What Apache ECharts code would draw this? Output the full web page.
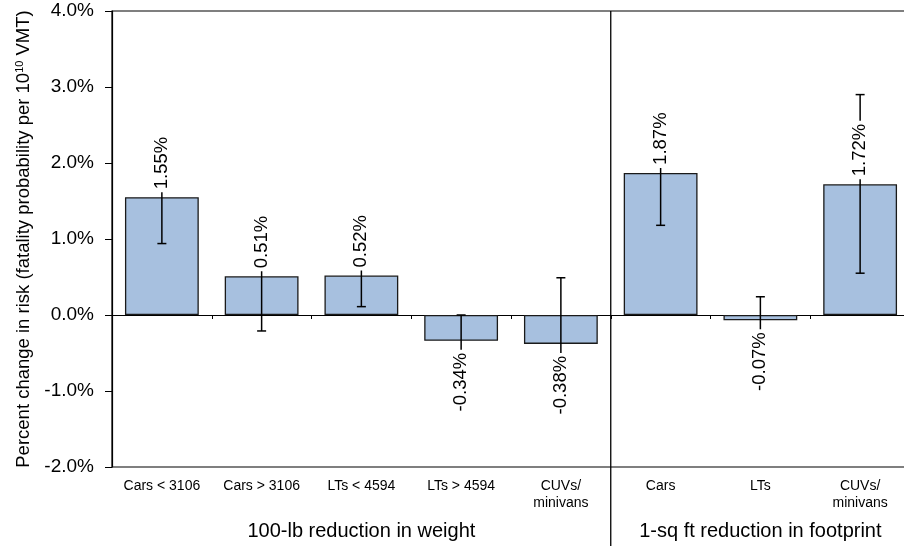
<!DOCTYPE html>
<html><head><meta charset="utf-8">
<script src="https://cdn.jsdelivr.net/npm/echarts@6/dist/echarts.min.js"></script>
<style>html,body{margin:0;padding:0;background:#fff}#c{width:904px;height:546px}</style>
</head><body><div id="c"></div>
<script>
const categories = ['Cars < 3106','Cars > 3106','LTs < 4594','LTs > 4594','CUVs/\nminivans','Cars','LTs','CUVs/\nminivans'];
const values = [1.55, 0.51, 0.52, -0.34, -0.38, 1.87, -0.07, 1.72];
const errLow = [0.94, -0.21, 0.11, -0.66, -1.18, 1.18, -0.38, 0.55];
const errHigh = [2.16, 1.23, 0.93, 0.00, 0.49, 2.56, 0.24, 2.90];
const groupNames = ['100-lb reduction in weight', '1-sq ft reduction in footprint'];
const groupStart = [0, 5];
const groupEnd = [4, 7];
const yMin = -2, yMax = 4, yInterval = 1;

const FONT = 'Arial, "Liberation Sans", sans-serif';
const chart = echarts.init(document.getElementById('c'), null, {renderer: 'canvas'});

const errData = values.map((v, i) => [i, errLow[i], errHigh[i]]);
const groupData = groupNames.map((n, i) => [groupStart[i], groupEnd[i], i]);

const option = {
  animation: false,
  backgroundColor: '#fff',
  grid: {left: 112, top: 11, width: 798, bottom: 79, show: true, borderColor: '#000', borderWidth: 1.2,
         containLabel: false, outerBoundsMode: 'none'},
  xAxis: [
    {type: 'category', data: categories, axisLine: {onZero: true, lineStyle: {color: '#000', width: 1.2}},
     axisTick: {show: true, alignWithLabel: false, length: 4, lineStyle: {color: '#000'}},
     axisLabel: {show: false}, splitLine: {show: false}},
    {type: 'category', data: categories, position: 'bottom', axisLine: {onZero: false, show: false},
     axisTick: {show: false},
     axisLabel: {show: true, interval: 0, margin: 11, color: '#000', fontSize: 14, lineHeight: 17, fontFamily: FONT}}
  ],
  yAxis: {
    type: 'value', min: yMin, max: yMax, interval: yInterval,
    axisLine: {show: true, lineStyle: {color: '#000', width: 1.2}},
    axisTick: {show: true, length: 7, lineStyle: {color: '#000'}},
    splitLine: {show: false},
    axisLabel: {formatter: v => v.toFixed(1) + '%', color: '#000', fontSize: 19, fontFamily: FONT, margin: 18},
    name: 'Percent change in risk (fatality probability per 10{sup|10} VMT)',
    nameLocation: 'middle', nameRotate: 90, nameGap: 74,
    nameTextStyle: {color: '#000', fontSize: 18.5, fontFamily: FONT,
      rich: {sup: {fontSize: 11, fontFamily: FONT, color: '#000', verticalAlign: 'top', padding: [0, 0, 8, 0]}}}
  },
  series: [
    {type: 'bar', data: values, barWidth: '74%', z: 2,
     itemStyle: {color: '#a7c0df', borderColor: '#1a1a1a', borderWidth: 1.3}},
    {type: 'custom', z: 3, data: errData, clip: false,
     encode: {x: 0, y: [1, 2]},
     renderItem: function (params, api) {
       const x = api.value(0);
       const lo = api.coord([x, api.value(1)]);
       const hi = api.coord([x, api.value(2)]);
       const w = 4.5;
       const st = {stroke: '#000', lineWidth: 1.5};
       return {type: 'group', children: [
         {type: 'line', shape: {x1: lo[0], y1: lo[1], x2: hi[0], y2: hi[1]}, style: st},
         {type: 'line', shape: {x1: lo[0] - w, y1: lo[1], x2: lo[0] + w, y2: lo[1]}, style: st},
         {type: 'line', shape: {x1: hi[0] - w, y1: hi[1], x2: hi[0] + w, y2: hi[1]}, style: st}
       ]};
     }},
    {type: 'bar', barGap: '-100%', barWidth: '74%', z: 5,
     itemStyle: {color: 'rgba(0,0,0,0)'},
     data: values.map(v => ({value: v, label: v >= 0
       ? {position: 'top', align: 'left', verticalAlign: 'middle', distance: 5}
       : {position: 'bottom', align: 'right', verticalAlign: 'middle', distance: 9}})),
     label: {show: true, rotate: 90, formatter: p => p.value.toFixed(2) + '%', color: '#000', fontSize: 18.5,
       fontFamily: FONT, backgroundColor: '#fff', padding: [0, 3]}},
    {type: 'custom', z: 6, data: groupData, clip: false, silent: true,
     encode: {x: [0, 1]},
     renderItem: function (params, api) {
       const s = api.value(0), e = api.value(1), gi = api.value(2);
       const bw = api.size([1, 0])[0];
       const left = api.coord([s, 0])[0] - bw / 2;
       const right = api.coord([e, 0])[0] + bw / 2;
       const top = api.coord([s, yMax])[1];
       const bottomAxis = api.coord([s, yMin])[1];
       const H = api.getHeight();
       const children = [{type: 'text', style: {text: groupNames[gi], x: (left + right) / 2, y: bottomAxis + 64,
         fill: '#000', font: '20px ' + FONT, align: 'center', verticalAlign: 'middle'}}];
       if (gi > 0) {
         children.push({type: 'line', shape: {x1: left, y1: top, x2: left, y2: H}, style: {stroke: '#000', lineWidth: 1.3}});
       }
       return {type: 'group', children};
     }}
  ]
};
chart.setOption(option);
</script>
</body></html>
